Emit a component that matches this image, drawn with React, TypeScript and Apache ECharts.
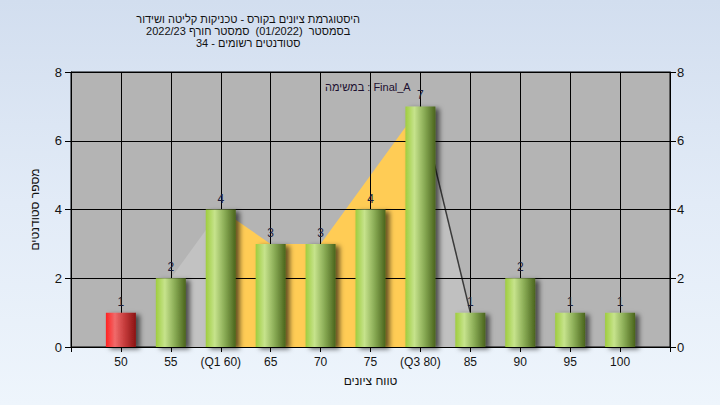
import React, { useEffect, useRef } from "react";
import * as echarts from "echarts";

const titleLines = [
  "היסטוגרמת ציונים בקורס - טכניקות קליטה ושידור",
  "בסמסטר  (01/2022)  סמסטר חורף 2022/23",
  "סטודנטים רשומים - 34",
];
const legendText = "במשימה : Final_A";
const xAxisName = "טווח ציונים";
const yAxisName = "מספר סטודנטים";

const scores = [50, 55, 60, 65, 70, 75, 80, 85, 90, 95, 100];
const counts = [1, 2, 4, 3, 3, 4, 7, 1, 2, 1, 1];
const xLabels = ["50", "55", "(Q1 60)", "65", "70", "75", "(Q3 80)", "85", "90", "95", "100"];
const failScores = [50];

const bandScores = [60, 65, 70, 75, 80];
const bandTop = [4, 3, 3, 5, 7];
const leftWedgeScores = [55, 60];
const leftWedge = [2, 4];
const rightWedgeScores = [80, 85];
const rightWedge = [7, 1];

const FONT = "'Liberation Sans', 'DejaVu Sans', Arial, sans-serif";

const greenGrad = () =>
  new echarts.graphic.LinearGradient(0, 0, 1, 0, [
    { offset: 0, color: "#9fcd3e" },
    { offset: 0.3, color: "#c6e38c" },
    { offset: 0.65, color: "#86a852" },
    { offset: 1, color: "#4a641c" },
  ]);
const redGrad = () =>
  new echarts.graphic.LinearGradient(0, 0, 1, 0, [
    { offset: 0, color: "#ff2222" },
    { offset: 0.3, color: "#f06a6a" },
    { offset: 0.65, color: "#c23838" },
    { offset: 1, color: "#8a1414" },
  ]);

export default function App() {
  const ref = useRef<HTMLDivElement>(null);
  useEffect(() => {
    if (!ref.current) return;
    const chart = echarts.init(ref.current, undefined, { renderer: "svg" });
    const pairs = (xs: number[], ys: number[]) => xs.map((x, i) => [x, ys[i]]);
    const axisLabelStyle = { color: "#141414", fontFamily: FONT };
    chart.setOption({
      animation: false,
      backgroundColor: "transparent",
      title: {
        text: titleLines.join("\n"),
        left: "center",
        top: 8,
        textAlign: "center",
        textStyle: { fontSize: 11, fontWeight: "normal", color: "#111", lineHeight: 12, fontFamily: FONT },
      },
      graphic: [
        {
          type: "text",
          left: 325,
          top: 81,
          z: 10,
          style: { text: legendText, fontSize: 11, fill: "#1c1030", fontFamily: FONT },
        },
      ],
      grid: {
        left: 71,
        right: 50,
        top: 72,
        bottom: 58,
        show: true,
        backgroundColor: "#b4b4b4",
        borderColor: "#000",
        borderWidth: 1,
        z: 0,
      },
      xAxis: {
        type: "value",
        min: 45,
        max: 105,
        interval: 5,
        z: 2,
        name: xAxisName,
        nameLocation: "middle",
        nameGap: 28,
        nameTextStyle: { fontSize: 12, color: "#111", fontFamily: FONT },
        axisLine: { lineStyle: { color: "#000", width: 1 } },
        axisTick: { show: true, length: 5, lineStyle: { color: "#000" } },
        axisLabel: {
          ...axisLabelStyle,
          fontSize: 12,
          margin: 9,
          showMinLabel: true,
          showMaxLabel: true,
          formatter: (v: number) => {
            const i = scores.indexOf(v);
            return i >= 0 ? xLabels[i] : "";
          },
        },
        splitLine: { show: true, lineStyle: { color: "#000", width: 1 } },
      },
      yAxis: [
        {
          type: "value",
          min: 0,
          max: 8,
          interval: 2,
          position: "left",
          z: 2,
          name: yAxisName,
          nameLocation: "middle",
          nameGap: 30,
          nameTextStyle: { fontSize: 12, color: "#111", fontFamily: FONT },
          axisLine: { show: true, lineStyle: { color: "#000" } },
          axisTick: { show: true, length: 6, lineStyle: { color: "#000" } },
          axisLabel: { ...axisLabelStyle, fontSize: 13, margin: 9 },
          splitLine: { show: true, lineStyle: { color: "#000", width: 1 } },
        },
        {
          type: "value",
          min: 0,
          max: 8,
          interval: 2,
          position: "right",
          z: 2,
          axisLine: { show: true, lineStyle: { color: "#000" } },
          axisTick: { show: true, length: 6, lineStyle: { color: "#000" } },
          axisLabel: { ...axisLabelStyle, fontSize: 13, margin: 7 },
          splitLine: { show: false },
        },
      ],
      series: [
        {
          type: "line",
          z: 1,
          data: pairs(leftWedgeScores, leftWedge),
          symbol: "none",
          lineStyle: { width: 0, opacity: 0 },
          areaStyle: { color: "#c2c2c2", opacity: 1 },
          silent: true,
        },
        {
          type: "line",
          z: 1,
          data: pairs(rightWedgeScores, rightWedge),
          symbol: "none",
          lineStyle: { width: 1.5, color: "#3a3a3a" },
          areaStyle: { color: "#c0c0c0", opacity: 1 },
          silent: true,
        },
        {
          type: "line",
          z: 1,
          data: pairs(bandScores, bandTop),
          symbol: "none",
          lineStyle: { width: 0, opacity: 0 },
          areaStyle: { color: "#ffcc55", opacity: 1 },
          silent: true,
        },
        {
          type: "bar",
          z: 3,
          barWidth: 30,
          data: scores.map((s, i) => ({
            value: [s, counts[i]],
            itemStyle: {
              color: failScores.includes(s) ? redGrad() : greenGrad(),
              shadowColor: "rgba(0,0,0,0.6)",
              shadowBlur: 5,
              shadowOffsetX: 4,
              shadowOffsetY: 2,
            },
          })),
          label: {
            show: true,
            position: "top",
            distance: 5,
            fontSize: 12,
            color: "#1c1c3a",
            fontFamily: FONT,
            formatter: (p: any) => String(p.value[1]),
          },
        },
      ],
    });
    return () => chart.dispose();
  }, []);
  return (
    <div
      style={{
        position: "fixed",
        left: 0,
        top: 0,
        width: 720,
        height: 405,
        background: "linear-gradient(to bottom, #d2deef 0%, #e2ebf7 50%, #eef5fc 100%)",
      }}
    >
      <div ref={ref} style={{ width: 720, height: 405 }} />
    </div>
  );
}
